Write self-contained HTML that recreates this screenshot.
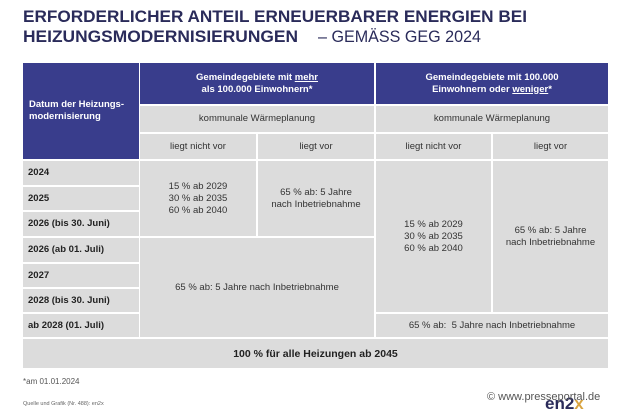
<!DOCTYPE html>
<html><head><meta charset="utf-8"><style>
html,body{margin:0;padding:0;width:630px;height:412px;background:#fff;overflow:hidden;position:relative;font-family:"Liberation Sans Narrow","Liberation Sans",sans-serif}
.c{position:absolute;display:flex;align-items:center;justify-content:center;text-align:center;font-size:9.5px;color:#333;line-height:12px;box-sizing:border-box}
.b{background:#393d8c;color:#fff;font-weight:bold}
.g{background:#dcdcdc}
.l{justify-content:flex-start;padding-left:5px;font-weight:bold;color:#222}
u{text-decoration:underline}
</style></head><body>
<svg style="position:absolute;left:0;top:0" width="630" height="50">
<text x="23" y="22" font-family="Liberation Sans,sans-serif" font-weight="bold" font-size="17" fill="#2a2b5a" textLength="504" lengthAdjust="spacingAndGlyphs">ERFORDERLICHER ANTEIL ERNEUERBARER ENERGIEN BEI</text>
<text x="23" y="42" font-family="Liberation Sans,sans-serif" font-weight="bold" font-size="17" fill="#2a2b5a" textLength="275" lengthAdjust="spacingAndGlyphs">HEIZUNGSMODERNISIERUNGEN</text>
<text x="318" y="42" font-family="Liberation Sans,sans-serif" font-size="17" fill="#2a2b5a" textLength="163" lengthAdjust="spacingAndGlyphs">– GEMÄSS GEG 2024</text>
</svg>
<div class="c b" style="left:23px;top:63px;width:116px;height:96px;justify-content:flex-start;text-align:left;padding-left:6px"><span>Datum der Heizungs-<br>modernisierung</span></div>
<div class="c b" style="left:140px;top:63px;width:234px;height:41px"><span>Gemeindegebiete mit <u>mehr</u><br>als 100.000 Einwohnern*</span></div>
<div class="c b" style="left:376px;top:63px;width:232px;height:41px"><span>Gemeindegebiete mit 100.000<br>Einwohnern oder <u>weniger</u>*</span></div>
<div class="c g" style="left:140px;top:106px;width:234px;height:26px">kommunale Wärmeplanung</div>
<div class="c g" style="left:376px;top:106px;width:232px;height:26px">kommunale Wärmeplanung</div>
<div class="c g" style="left:140px;top:134px;width:116px;height:25px">liegt nicht vor</div>
<div class="c g" style="left:258px;top:134px;width:116px;height:25px">liegt vor</div>
<div class="c g" style="left:376px;top:134px;width:115px;height:25px">liegt nicht vor</div>
<div class="c g" style="left:493px;top:134px;width:115px;height:25px">liegt vor</div>

<div class="c g l" style="left:23px;top:161px;width:116px;height:24px">2024</div>
<div class="c g l" style="left:23px;top:187px;width:116px;height:23px">2025</div>
<div class="c g l" style="left:23px;top:212px;width:116px;height:24px">2026 (bis 30. Juni)</div>
<div class="c g l" style="left:23px;top:238px;width:116px;height:24px">2026 (ab 01. Juli)</div>
<div class="c g l" style="left:23px;top:264px;width:116px;height:23px">2027</div>
<div class="c g l" style="left:23px;top:289px;width:116px;height:23px">2028 (bis 30. Juni)</div>
<div class="c g l" style="left:23px;top:314px;width:116px;height:23px">ab 2028 (01. Juli)</div>

<div class="c g" style="left:140px;top:161px;width:116px;height:75px"><span>15 % ab 2029<br>30 % ab 2035<br>60 % ab 2040</span></div>
<div class="c g" style="left:258px;top:161px;width:116px;height:75px"><span>65 % ab: 5 Jahre<br>nach Inbetriebnahme</span></div>
<div class="c g" style="left:140px;top:238px;width:234px;height:99px">65 % ab: 5 Jahre nach Inbetriebnahme</div>
<div class="c g" style="left:376px;top:161px;width:115px;height:151px"><span>15 % ab 2029<br>30 % ab 2035<br>60 % ab 2040</span></div>
<div class="c g" style="left:493px;top:161px;width:115px;height:151px"><span>65 % ab: 5 Jahre<br>nach Inbetriebnahme</span></div>
<div class="c g" style="left:376px;top:314px;width:232px;height:23px">65 % ab:&nbsp; 5 Jahre nach Inbetriebnahme</div>
<div class="c g" style="left:23px;top:339px;width:585px;height:29px;font-weight:bold;font-size:10.5px;color:#222">100 % für alle Heizungen ab 2045</div>

<div style="position:absolute;left:23px;top:377px;font-size:8px;color:#555">*am 01.01.2024</div>
<div style="position:absolute;left:23px;top:401px;font-size:5.5px;color:#666">Quelle und Grafik (Nr. 488): en2x</div>
<div style="position:absolute;left:545px;top:395px;font-family:'Liberation Sans',sans-serif;font-weight:bold;font-size:17px;color:#2a2b5a;line-height:17px">en2<span style="color:#d9a441">x</span></div>
<div style="position:absolute;left:487px;top:391px;font-family:'Liberation Sans',sans-serif;font-size:11px;color:#555">© www.presseportal.de</div>
</body></html>
